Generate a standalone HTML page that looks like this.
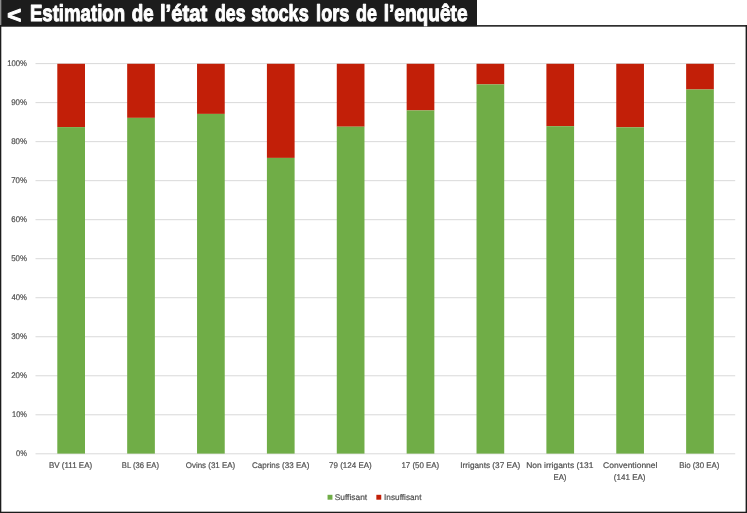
<!DOCTYPE html>
<html lang="fr"><head><meta charset="utf-8"><title>Estimation de l’état des stocks lors de l’enquête</title>
<style>
html,body{margin:0;padding:0;background:#fff;}
body{width:747px;height:513px;overflow:hidden;font-family:"Liberation Sans",sans-serif;}
svg{display:block;will-change:transform;}
.t{font-family:"Liberation Sans",sans-serif;fill:#505050;font-size:8.2px;stroke:#505050;stroke-width:0.2px;text-rendering:geometricPrecision;}
.title{font-family:"Liberation Sans",sans-serif;font-weight:bold;fill:#fff;font-size:23.2px;stroke:#fff;stroke-width:1.0px;stroke-linejoin:round;text-rendering:geometricPrecision;}
</style></head><body>
<svg width="747" height="513" viewBox="0 0 747 513">
<rect x="0" y="0" width="747" height="513" fill="#fff"/>
<rect x="0" y="25" width="747" height="1.7" fill="#2e2e2e"/>
<rect x="0" y="0" width="1.3" height="25" fill="#8c8c8c"/>
<rect x="0" y="25" width="1.3" height="488" fill="#1c1c1c"/>
<rect x="745.6" y="25" width="1.4" height="488" fill="#1c1c1c"/>
<rect x="0" y="511.7" width="747" height="1.3" fill="#1c1c1c"/>
<rect x="1.2" y="0" width="475.8" height="26.2" fill="#1c1c1c"/>
<rect x="35.5" y="63.10" width="699.7" height="1" fill="#d9d9d9"/>
<rect x="35.5" y="102.12" width="699.7" height="1" fill="#d9d9d9"/>
<rect x="35.5" y="141.14" width="699.7" height="1" fill="#d9d9d9"/>
<rect x="35.5" y="180.16" width="699.7" height="1" fill="#d9d9d9"/>
<rect x="35.5" y="219.18" width="699.7" height="1" fill="#d9d9d9"/>
<rect x="35.5" y="258.20" width="699.7" height="1" fill="#d9d9d9"/>
<rect x="35.5" y="297.22" width="699.7" height="1" fill="#d9d9d9"/>
<rect x="35.5" y="336.24" width="699.7" height="1" fill="#d9d9d9"/>
<rect x="35.5" y="375.26" width="699.7" height="1" fill="#d9d9d9"/>
<rect x="35.5" y="414.28" width="699.7" height="1" fill="#d9d9d9"/>
<rect x="35.5" y="453.30" width="699.7" height="1" fill="#d9d9d9"/>
<rect x="57.3" y="63.80" width="27.7" height="63.30" fill="#c21f08"/>
<rect x="57.3" y="127.10" width="27.7" height="326.50" fill="#70ad47"/>
<rect x="127.17" y="63.80" width="27.7" height="54.05" fill="#c21f08"/>
<rect x="127.17" y="117.85" width="27.7" height="335.75" fill="#70ad47"/>
<rect x="197.04" y="63.80" width="27.7" height="50.10" fill="#c21f08"/>
<rect x="197.04" y="113.90" width="27.7" height="339.70" fill="#70ad47"/>
<rect x="266.91" y="63.80" width="27.7" height="94.10" fill="#c21f08"/>
<rect x="266.91" y="157.90" width="27.7" height="295.70" fill="#70ad47"/>
<rect x="336.78" y="63.80" width="27.7" height="62.90" fill="#c21f08"/>
<rect x="336.78" y="126.70" width="27.7" height="326.90" fill="#70ad47"/>
<rect x="406.65" y="63.80" width="27.7" height="46.60" fill="#c21f08"/>
<rect x="406.65" y="110.40" width="27.7" height="343.20" fill="#70ad47"/>
<rect x="476.52" y="63.80" width="27.7" height="20.60" fill="#c21f08"/>
<rect x="476.52" y="84.40" width="27.7" height="369.20" fill="#70ad47"/>
<rect x="546.39" y="63.80" width="27.7" height="62.40" fill="#c21f08"/>
<rect x="546.39" y="126.20" width="27.7" height="327.40" fill="#70ad47"/>
<rect x="616.26" y="63.80" width="27.7" height="63.50" fill="#c21f08"/>
<rect x="616.26" y="127.30" width="27.7" height="326.30" fill="#70ad47"/>
<rect x="686.13" y="63.80" width="27.7" height="25.70" fill="#c21f08"/>
<rect x="686.13" y="89.50" width="27.7" height="364.10" fill="#70ad47"/>
<rect x="327.55" y="494.8" width="4.9" height="4.9" fill="#70ad47"/>
<rect x="376.35" y="494.8" width="4.9" height="4.9" fill="#c21f08"/>
<text class="title" x="7.26" y="22.700000000000003" textLength="14.06" lengthAdjust="spacingAndGlyphs">&lt;</text>
<text class="title" x="29.88" y="21.1" textLength="95.25" lengthAdjust="spacingAndGlyphs">Estimation</text>
<text class="title" x="131.72" y="21.1" textLength="21.92" lengthAdjust="spacingAndGlyphs">de</text>
<text class="title" x="159.90" y="21.1" textLength="47.45" lengthAdjust="spacingAndGlyphs">l’état</text>
<text class="title" x="214.94" y="21.1" textLength="30.62" lengthAdjust="spacingAndGlyphs">des</text>
<text class="title" x="251.26" y="21.1" textLength="57.47" lengthAdjust="spacingAndGlyphs">stocks</text>
<text class="title" x="316.12" y="21.1" textLength="33.33" lengthAdjust="spacingAndGlyphs">lors</text>
<text class="title" x="356.05" y="21.1" textLength="20.90" lengthAdjust="spacingAndGlyphs">de</text>
<text class="title" x="383.69" y="21.1" textLength="83.92" lengthAdjust="spacingAndGlyphs">l’enquête</text>
<text class="t" x="7.17" y="66.1" textLength="19.83" lengthAdjust="spacingAndGlyphs">100%</text>
<text class="t" x="11.15" y="105.12" textLength="15.85" lengthAdjust="spacingAndGlyphs">90%</text>
<text class="t" x="11.15" y="144.14" textLength="15.85" lengthAdjust="spacingAndGlyphs">80%</text>
<text class="t" x="11.22" y="183.16" textLength="15.78" lengthAdjust="spacingAndGlyphs">70%</text>
<text class="t" x="11.34" y="222.18" textLength="15.66" lengthAdjust="spacingAndGlyphs">60%</text>
<text class="t" x="11.17" y="261.2" textLength="15.83" lengthAdjust="spacingAndGlyphs">50%</text>
<text class="t" x="11.52" y="300.22" textLength="15.48" lengthAdjust="spacingAndGlyphs">40%</text>
<text class="t" x="11.14" y="339.24" textLength="15.86" lengthAdjust="spacingAndGlyphs">30%</text>
<text class="t" x="11.20" y="378.26" textLength="15.80" lengthAdjust="spacingAndGlyphs">20%</text>
<text class="t" x="12.06" y="417.28" textLength="14.94" lengthAdjust="spacingAndGlyphs">10%</text>
<text class="t" x="16.07" y="456.3" textLength="10.93" lengthAdjust="spacingAndGlyphs">0%</text>
<text class="t" x="48.96" y="468.2" textLength="43.25" lengthAdjust="spacingAndGlyphs">BV (111 EA)</text>
<text class="t" x="121.86" y="468.2" textLength="37.14" lengthAdjust="spacingAndGlyphs">BL (36 EA)</text>
<text class="t" x="185.78" y="468.2" textLength="49.48" lengthAdjust="spacingAndGlyphs">Ovins (31 EA)</text>
<text class="t" x="252.07" y="468.2" textLength="57.26" lengthAdjust="spacingAndGlyphs">Caprins (33 EA)</text>
<text class="t" x="329.07" y="468.2" textLength="42.68" lengthAdjust="spacingAndGlyphs">79 (124 EA)</text>
<text class="t" x="401.40" y="468.2" textLength="37.83" lengthAdjust="spacingAndGlyphs">17 (50 EA)</text>
<text class="t" x="460.34" y="468.2" textLength="59.95" lengthAdjust="spacingAndGlyphs">Irrigants (37 EA)</text>
<text class="t" x="526.26" y="468.2" textLength="67.14" lengthAdjust="spacingAndGlyphs">Non irrigants (131</text>
<text class="t" x="553.48" y="479.5" textLength="13.01" lengthAdjust="spacingAndGlyphs">EA)</text>
<text class="t" x="603.00" y="468.2" textLength="54.50" lengthAdjust="spacingAndGlyphs">Conventionnel</text>
<text class="t" x="613.80" y="479.5" textLength="31.76" lengthAdjust="spacingAndGlyphs">(141 EA)</text>
<text class="t" x="679.23" y="468.2" textLength="40.17" lengthAdjust="spacingAndGlyphs">Bio (30 EA)</text>
<text class="t" x="334.71" y="499.5" textLength="32.44" lengthAdjust="spacingAndGlyphs">Suffisant</text>
<text class="t" x="384.09" y="499.5" textLength="37.39" lengthAdjust="spacingAndGlyphs">Insuffisant</text>
</svg></body></html>
